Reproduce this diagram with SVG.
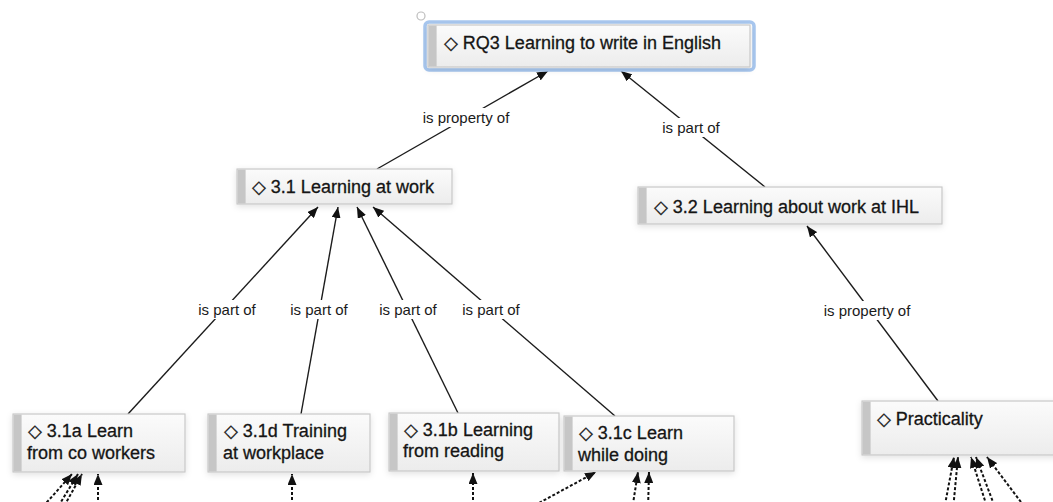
<svg xmlns="http://www.w3.org/2000/svg" width="1053" height="502" viewBox="0 0 1053 502">
<style>
  .box { fill: url(#nodeFill); stroke: #c9c9c9; stroke-width: 1.2; filter: url(#shadow); }
  .bar { fill: #c6c6c6; }
  .nt { font-family: "Liberation Sans", Arial, "DejaVu Sans", sans-serif; font-size: 18px; fill: #151515; stroke: #151515; stroke-width: 0.3; }
  .lbl { font-family: "Liberation Sans", Arial, sans-serif; font-size: 15px; fill: #1a1a1a; text-anchor: middle; }
  .lblbg { fill: #ffffff; }
  .edge { stroke: #1c1c1c; stroke-width: 1.4; fill: none; marker-end: url(#arrow); }
  .dash { stroke: #111; stroke-width: 2; stroke-dasharray: 3 2; fill: none; marker-end: url(#arrow); }
</style>
<defs>
  <linearGradient id="nodeFill" x1="0" y1="0" x2="0" y2="1">
    <stop offset="0" stop-color="#fbfbfb"/>
    <stop offset="1" stop-color="#ececec"/>
  </linearGradient>
  <filter id="shadow" x="-10%" y="-30%" width="120%" height="160%">
    <feDropShadow dx="0" dy="2" stdDeviation="3" flood-color="#000" flood-opacity="0.12"/>
  </filter>
  <marker id="arrow" viewBox="0 0 11 9" refX="11" refY="4.5" markerWidth="11" markerHeight="9" markerUnits="userSpaceOnUse" orient="auto">
    <path d="M0,0 L11,4.5 L0,9 z" fill="#111"/>
  </marker>
</defs>
<rect width="1053" height="502" fill="#ffffff"/>

<g id="connectors">
  <line class="edge" x1="377" y1="169" x2="548" y2="71"/>
  <line class="edge" x1="765" y1="187" x2="621" y2="71"/>
  <line class="edge" x1="128" y1="414" x2="318" y2="207"/>
  <line class="edge" x1="301" y1="414" x2="338" y2="207"/>
  <line class="edge" x1="458" y1="413" x2="357" y2="207"/>
  <line class="edge" x1="615" y1="416" x2="373" y2="207"/>
  <line class="edge" x1="938" y1="401" x2="807" y2="226"/>

  <line class="dash" x1="40" y1="510" x2="72" y2="474"/>
  <line class="dash" x1="56" y1="510" x2="78" y2="474"/>
  <line class="dash" x1="62" y1="510" x2="82" y2="474"/>
  <line class="dash" x1="98" y1="510" x2="98" y2="474"/>
  <line class="dash" x1="292" y1="510" x2="292" y2="474"/>
  <line class="dash" x1="473" y1="510" x2="473" y2="473"/>
  <line class="dash" x1="526" y1="510" x2="596" y2="472"/>
  <line class="dash" x1="632" y1="510" x2="638" y2="472"/>
  <line class="dash" x1="648" y1="510" x2="649" y2="472"/>
  <line class="dash" x1="944" y1="510" x2="954" y2="457"/>
  <line class="dash" x1="953" y1="510" x2="958" y2="457"/>
  <line class="dash" x1="988" y1="510" x2="971" y2="457"/>
  <line class="dash" x1="996" y1="510" x2="976" y2="457"/>
  <line class="dash" x1="1027" y1="510" x2="987" y2="457"/>

  <rect class="lblbg" x="420" y="108" width="92" height="19"/>
  <text class="lbl" x="466" y="123">is property of</text>
  <rect class="lblbg" x="660" y="118" width="62" height="19"/>
  <text class="lbl" x="691" y="133">is part of</text>
  <rect class="lblbg" x="196" y="300" width="62" height="19"/>
  <text class="lbl" x="227" y="315">is part of</text>
  <rect class="lblbg" x="288" y="300" width="62" height="19"/>
  <text class="lbl" x="319" y="315">is part of</text>
  <rect class="lblbg" x="377" y="300" width="62" height="19"/>
  <text class="lbl" x="408" y="315">is part of</text>
  <rect class="lblbg" x="460" y="300" width="62" height="19"/>
  <text class="lbl" x="491" y="315">is part of</text>
  <rect class="lblbg" x="821" y="301" width="92" height="19"/>
  <text class="lbl" x="867" y="316">is property of</text>
</g>

<circle cx="421" cy="16" r="4" fill="#fff" stroke="#bdbdbd" stroke-width="1.2"/>

<g id="node-rq3">
  <rect x="425" y="22" width="329" height="48" rx="4" fill="none" stroke="#a8c7ef" stroke-width="3.5"/>
  <rect class="box" x="428" y="25" width="322" height="42"/>
  <rect class="bar" x="428.6" y="25.6" width="8" height="40.8"/>
  <text class="nt" x="444" y="49">◇ RQ3 Learning to write in English</text>
</g>

<g id="node-3-1">
  <rect class="box" x="237" y="169" width="215" height="35"/>
  <rect class="bar" x="237.6" y="169.6" width="8" height="33.8"/>
  <text class="nt" x="252" y="193">◇ 3.1 Learning at work</text>
</g>

<g id="node-3-2">
  <rect class="box" x="638" y="187" width="304" height="37"/>
  <rect class="bar" x="638.6" y="187.6" width="8" height="35.8"/>
  <text class="nt" x="654" y="213">◇ 3.2 Learning about work at IHL</text>
</g>

<g id="node-3-1a">
  <rect class="box" x="13" y="414" width="172" height="58"/>
  <rect class="bar" x="13.6" y="414.6" width="8" height="56.8"/>
  <text class="nt" x="28" y="437">◇ 3.1a Learn</text>
  <text class="nt" x="27" y="459">from co workers</text>
</g>

<g id="node-3-1d">
  <rect class="box" x="208" y="414" width="162" height="58"/>
  <rect class="bar" x="208.6" y="414.6" width="8" height="56.8"/>
  <text class="nt" x="224" y="437">◇ 3.1d Training</text>
  <text class="nt" x="223" y="459">at workplace</text>
</g>

<g id="node-3-1b">
  <rect class="box" x="389" y="413" width="170" height="58"/>
  <rect class="bar" x="389.6" y="413.6" width="8" height="56.8"/>
  <text class="nt" x="404" y="436">◇ 3.1b Learning</text>
  <text class="nt" x="403" y="457">from reading</text>
</g>

<g id="node-3-1c">
  <rect class="box" x="564" y="416" width="170" height="55"/>
  <rect class="bar" x="564.6" y="416.6" width="8" height="53.8"/>
  <text class="nt" x="579" y="439">◇ 3.1c Learn</text>
  <text class="nt" x="578" y="461">while doing</text>
</g>

<g id="node-practicality">
  <rect class="box" x="862" y="401" width="200" height="54"/>
  <rect class="bar" x="862.6" y="401.6" width="8" height="52.8"/>
  <text class="nt" x="877" y="425">◇ Practicality</text>
</g>
</svg>
